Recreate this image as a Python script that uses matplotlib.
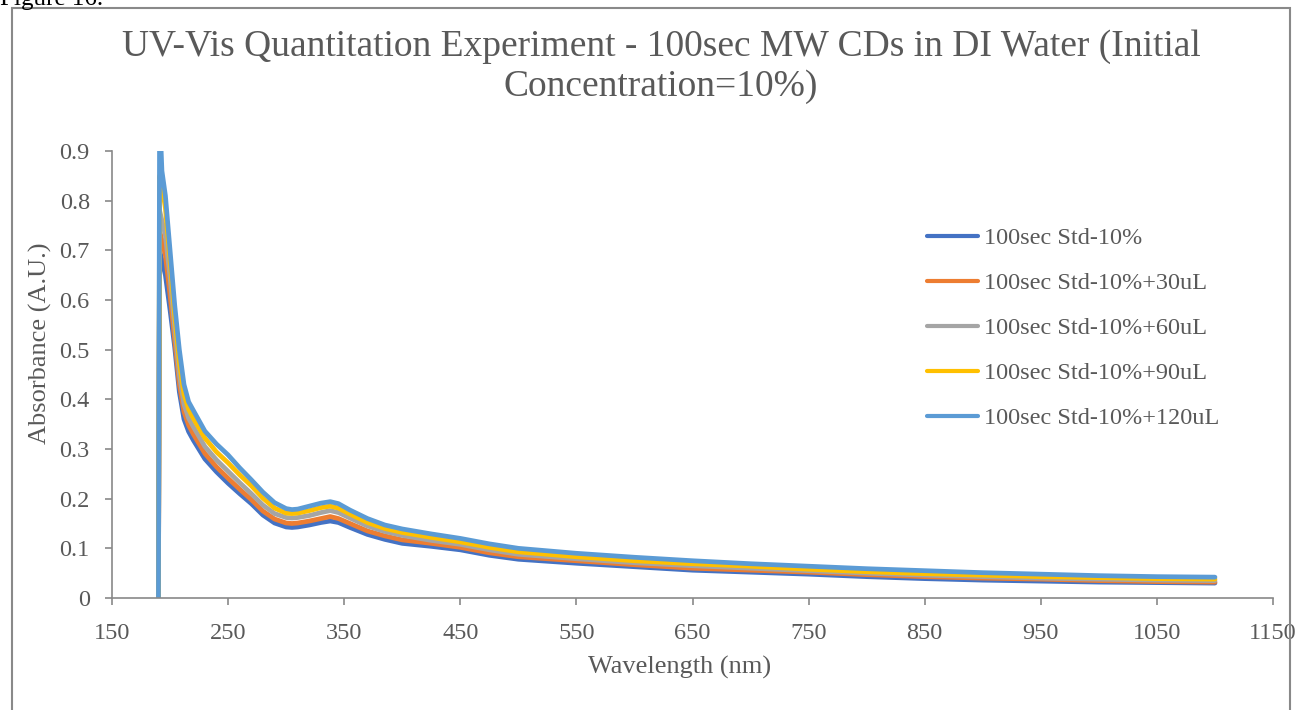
import matplotlib.pyplot as plt
from matplotlib.patches import Rectangle

# wavelengths (nm) shared by all five spectra
wavelength = [190, 191, 193, 196, 200, 204, 208, 212, 216, 220, 230, 240, 250, 260, 270,
              280, 290, 300, 305, 310, 320, 330, 338, 345, 355, 370, 385, 400, 425, 450,
              475, 500, 550, 600, 650, 700, 750, 800, 850, 900, 950, 1000, 1050, 1100]

std_10 = [0.0, 0.70, 0.68, 0.65, 0.58, 0.505, 0.415, 0.36, 0.335, 0.318, 0.28, 0.254, 0.231, 0.21, 0.19,
          0.167, 0.151, 0.143, 0.142, 0.143, 0.147, 0.152, 0.155, 0.152, 0.142, 0.128, 0.118, 0.110, 0.104, 0.097,
          0.086, 0.078, 0.070, 0.063, 0.056, 0.052, 0.048, 0.043, 0.039, 0.036, 0.034, 0.032, 0.031, 0.030]
std_30 = [0.0, 0.74, 0.72, 0.69, 0.61, 0.52, 0.43, 0.375, 0.348, 0.33, 0.291, 0.264, 0.241, 0.219, 0.198,
          0.175, 0.159, 0.151, 0.150, 0.151, 0.155, 0.160, 0.164, 0.160, 0.150, 0.135, 0.125, 0.117, 0.110, 0.102,
          0.091, 0.083, 0.075, 0.067, 0.060, 0.056, 0.052, 0.047, 0.043, 0.040, 0.038, 0.035, 0.033, 0.032]
std_60 = [0.0, 0.78, 0.76, 0.73, 0.645, 0.545, 0.45, 0.39, 0.362, 0.345, 0.305, 0.278, 0.255, 0.232, 0.21,
          0.187, 0.17, 0.162, 0.161, 0.162, 0.166, 0.172, 0.176, 0.172, 0.161, 0.145, 0.134, 0.126, 0.116, 0.108,
          0.097, 0.088, 0.079, 0.071, 0.065, 0.060, 0.055, 0.050, 0.046, 0.043, 0.040, 0.038, 0.036, 0.035]
std_90 = [0.0, 0.85, 0.83, 0.785, 0.68, 0.57, 0.475, 0.41, 0.38, 0.362, 0.322, 0.294, 0.272, 0.248, 0.226,
          0.201, 0.181, 0.171, 0.170, 0.171, 0.176, 0.182, 0.185, 0.181, 0.169, 0.152, 0.140, 0.132, 0.122, 0.113,
          0.102, 0.093, 0.083, 0.075, 0.069, 0.064, 0.058, 0.053, 0.049, 0.046, 0.043, 0.041, 0.039, 0.038]
std_120 = [0.0, 0.98, 0.86, 0.81, 0.70, 0.59, 0.50, 0.43, 0.395, 0.378, 0.336, 0.31, 0.288, 0.262, 0.238,
           0.213, 0.192, 0.180, 0.178, 0.179, 0.185, 0.191, 0.194, 0.190, 0.177, 0.160, 0.147, 0.139, 0.129, 0.120,
           0.109, 0.100, 0.090, 0.082, 0.075, 0.069, 0.064, 0.059, 0.055, 0.051, 0.048, 0.045, 0.043, 0.042]

labels = ["100sec Std-10%", "100sec Std-10%+30uL", "100sec Std-10%+60uL",
          "100sec Std-10%+90uL", "100sec Std-10%+120uL"]
colors = ["#4472C4", "#ED7D31", "#A5A5A5", "#FFC000", "#5B9BD5"]

x_ticks = [150, 250, 350, 450, 550, 650, 750, 850, 950, 1050, 1150]
y_ticks = [0, 0.1, 0.2, 0.3, 0.4, 0.5, 0.6, 0.7, 0.8, 0.9]
y_tick_labels = ["0", "0.1", "0.2", "0.3", "0.4", "0.5", "0.6", "0.7", "0.8", "0.9"]

plt.rcParams['font.family'] = ['Liberation Serif', 'DejaVu Serif']
text_color = "#595959"
axis_color = "#898989"

fig = plt.figure(figsize=(13.01, 7.10), dpi=100)
fig.patches.append(Rectangle((12 / 1301, -0.1), 1278 / 1301, 1.1 - 8 / 710,
                             transform=fig.transFigure, fill=False,
                             edgecolor=axis_color, linewidth=1.5))
# caption above the chart box, cut off by the page edge as in the source
fig.text(0.0, 1 - 5 / 710, "Figure 16.", fontsize=18, color="black", va="baseline")

ax = fig.add_axes([112 / 1301, 1 - 598 / 710, (1273 - 112) / 1301, (598 - 151) / 710])

series = [std_10, std_30, std_60, std_90, std_120]
for values, label, color in zip(series, labels, colors):
    ax.plot(wavelength, values, color=color, linewidth=3.4, label=label,
            solid_capstyle="round", solid_joinstyle="round")

ax.set_xlim(150, 1150)
ax.set_ylim(0, 0.9)
ax.set_xticks(x_ticks)
ax.set_yticks(y_ticks)
ax.set_yticklabels(y_tick_labels)
for side in ["top", "right"]:
    ax.spines[side].set_visible(False)
for side in ["left", "bottom"]:
    ax.spines[side].set_color(axis_color)
    ax.spines[side].set_linewidth(1.2)
ax.tick_params(direction="out", length=5, width=1.2, color=axis_color,
               labelcolor=text_color, labelsize=17.5)
ax.tick_params(axis="x", pad=13)
ax.tick_params(axis="y", pad=11)

fig.text(661 / 1301, 1 - 67 / 710,
         "UV-Vis Quantitation Experiment - 100sec MW CDs in DI Water (Initial\nConcentration=10%)",
         ha="center", va="center", fontsize=27, color=text_color, linespacing=1.2)
fig.text(680 / 1301, 1 - 667 / 710, "Wavelength (nm)", ha="center", va="center",
         fontsize=19, color=text_color)
fig.text(40 / 1301, 1 - 343 / 710, "Absorbance (A.U.)", ha="center", va="center",
         rotation=90, fontsize=19, color=text_color)

leg = ax.legend(loc="upper left", bbox_to_anchor=(927 / 1301, 1 - 227 / 710),
                bbox_transform=fig.transFigure, frameon=False, fontsize=17.5,
                handlelength=2.1, handletextpad=0.25, labelspacing=0.95, borderpad=0,
                borderaxespad=0)
for t in leg.get_texts():
    t.set_color(text_color)
for line in leg.get_lines():
    line.set_linewidth(3.0)

fig.savefig("out.png", dpi=100)
